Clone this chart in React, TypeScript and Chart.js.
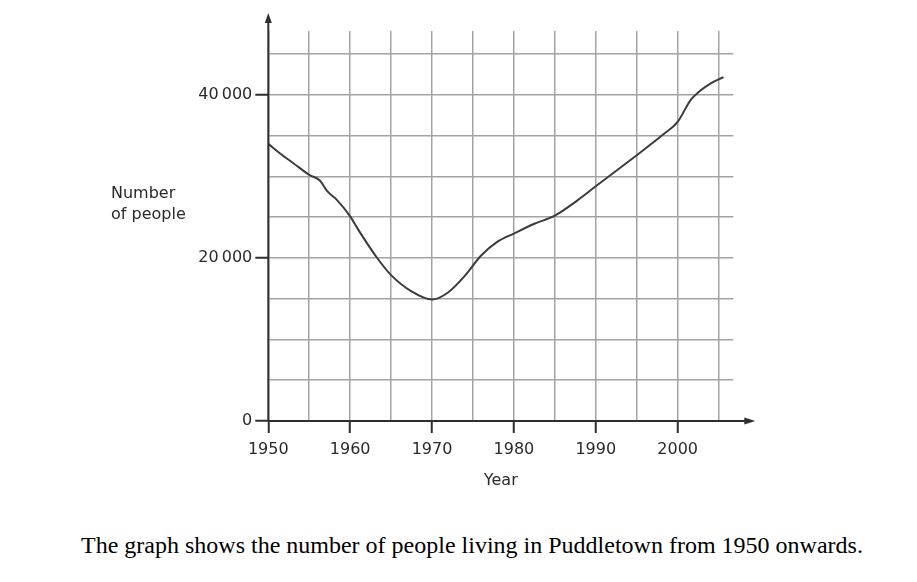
import React, { useEffect, useRef } from "react";
import { Chart, registerables } from "chart.js";

Chart.register(...registerables);

// ---- data ----
const years = [
  1950, 1951.4, 1953.1, 1955, 1956.3, 1957.2, 1958.4, 1960, 1961, 1963.3, 1965,
  1967.5, 1970, 1972, 1974, 1976, 1978, 1980, 1982.5, 1985, 1987.8, 1990, 1995,
  1998.3, 2000, 2001.6, 2002.6, 2004, 2005.6,
];
const people = [
  34000, 32850, 31600, 30200, 29500, 28200, 27100, 25100, 23450, 20000, 17900,
  15900, 14900, 15800, 17800, 20300, 22000, 23000, 24200, 25200, 27100, 28800,
  32600, 35200, 36700, 39400, 40400, 41400, 42200,
];
const xGridYears = [1950, 1955, 1960, 1965, 1970, 1975, 1980, 1985, 1990, 1995, 2000, 2005];
const xLabelYears = [1950, 1960, 1970, 1980, 1990, 2000];
const yGridValues = [0, 5000, 10000, 15000, 20000, 25000, 30000, 35000, 40000, 45000];
const yLabelValues = [0, 20000, 40000];
const yLabelTexts = ["0", "20\u2009000", "40\u2009000"];
const xMin = 1950;
const xMax = 2006.8;
const yMin = 0;
const yMax = 47850;
const yTitleLines = ["Number", "of people"];
const xTitle = "Year";
const caption = "The graph shows the number of people living in Puddletown from 1950 onwards.";

const FONT = "'DejaVu Sans', sans-serif";
const GRID = "#a3a3a3";
const AXIS = "#2e2e2e";
const LINE = "#3c3c3c";
const TEXT = "#2a2a2a";

const axesPlugin = {
  id: "axesArrows",
  afterDraw(chart: any) {
    const { ctx, chartArea, scales } = chart;
    const x0 = scales.x.getPixelForValue(xMin);
    const y0 = scales.y.getPixelForValue(0);
    ctx.save();
    ctx.strokeStyle = AXIS;
    ctx.fillStyle = AXIS;
    ctx.lineWidth = 2;
    // y axis
    const yTip = chartArea.top - 18;
    ctx.beginPath();
    ctx.moveTo(x0, y0);
    ctx.lineTo(x0, yTip + 6);
    ctx.stroke();
    ctx.beginPath();
    ctx.moveTo(x0, yTip);
    ctx.lineTo(x0 - 3.5, yTip + 10);
    ctx.lineTo(x0 + 3.5, yTip + 10);
    ctx.closePath();
    ctx.fill();
    // x axis
    const xTip = chartArea.right + 22;
    ctx.beginPath();
    ctx.moveTo(x0, y0);
    ctx.lineTo(xTip - 6, y0);
    ctx.stroke();
    ctx.beginPath();
    ctx.moveTo(xTip, y0);
    ctx.lineTo(xTip - 11, y0 - 3.5);
    ctx.lineTo(xTip - 11, y0 + 3.5);
    ctx.closePath();
    ctx.fill();
    // y title
    ctx.font = `16px ${FONT}`;
    ctx.fillStyle = TEXT;
    ctx.textAlign = "left";
    ctx.textBaseline = "alphabetic";
    ctx.fillText(yTitleLines[0], 111, 198);
    ctx.fillText(yTitleLines[1], 111, 219);
    ctx.restore();
  },
};

export default function App() {
  const ref = useRef<HTMLCanvasElement | null>(null);

  useEffect(() => {
    if (!ref.current) return;
    const chart = new Chart(ref.current, {
      type: "line",
      data: {
        datasets: [
          {
            data: years.map((x, i) => ({ x, y: people[i] })),
            borderColor: LINE,
            borderWidth: 2,
            pointRadius: 0,
            cubicInterpolationMode: "monotone",
            fill: false,
          },
        ],
      },
      options: {
        animation: false,
        responsive: false,
        maintainAspectRatio: false,
        layout: { padding: { top: 31, right: 183.7, left: 0, bottom: 0 } },
        plugins: { legend: { display: false }, tooltip: { enabled: false } },
        scales: {
          x: {
            type: "linear",
            min: xMin,
            max: xMax,
            afterBuildTicks: (s: any) => {
              s.ticks = xGridYears.map((v) => ({ value: v }));
            },
            afterFit: (s: any) => {
              s.height = 79;
            },
            border: { display: false },
            grid: {
              color: GRID,
              lineWidth: 1.5,
              drawTicks: true,
              tickLength: 12,
              tickWidth: 2,
              tickColor: (c: any) =>
                c.tick && xLabelYears.includes(c.tick.value) ? AXIS : "rgba(0,0,0,0)",
            },
            ticks: {
              autoSkip: false,
              maxRotation: 0,
              padding: 7,
              color: TEXT,
              font: { family: FONT, size: 16 },
              callback: (v: any) => (xLabelYears.includes(v) ? String(v) : ""),
            },
            title: {
              display: true,
              text: xTitle,
              color: TEXT,
              font: { family: FONT, size: 16 },
              padding: { top: 0, bottom: 10 },
            },
          },
          y: {
            type: "linear",
            min: yMin,
            max: yMax,
            afterBuildTicks: (s: any) => {
              s.ticks = yGridValues.map((v) => ({ value: v }));
            },
            afterFit: (s: any) => {
              s.width = 268.3;
            },
            border: { display: false },
            grid: {
              color: GRID,
              lineWidth: 1.5,
              drawTicks: true,
              tickLength: 13,
              tickWidth: 2,
              tickColor: (c: any) =>
                c.tick && yLabelValues.includes(c.tick.value) ? AXIS : "rgba(0,0,0,0)",
            },
            ticks: {
              autoSkip: false,
              padding: 3,
              color: TEXT,
              font: { family: FONT, size: 16 },
              callback: (v: any) => {
                const i = yLabelValues.indexOf(v);
                return i >= 0 ? yLabelTexts[i] : "";
              },
            },
          },
        },
      },
      plugins: [axesPlugin],
    } as any);
    return () => chart.destroy();
  }, []);

  return (
    <div style={{ position: "absolute", left: 0, top: 0, width: 917, height: 582, background: "#fff" }}>
      <canvas ref={ref} width={917} height={500} style={{ display: "block", width: 917, height: 500 }} />
      <div
        style={{
          position: "absolute",
          left: 81,
          top: 532,
          whiteSpace: "nowrap",
          fontFamily: "'Liberation Serif', 'Times New Roman', serif",
          fontSize: 24,
          lineHeight: "27px",
          color: "#000",
        }}
      >
        {caption}
      </div>
    </div>
  );
}
